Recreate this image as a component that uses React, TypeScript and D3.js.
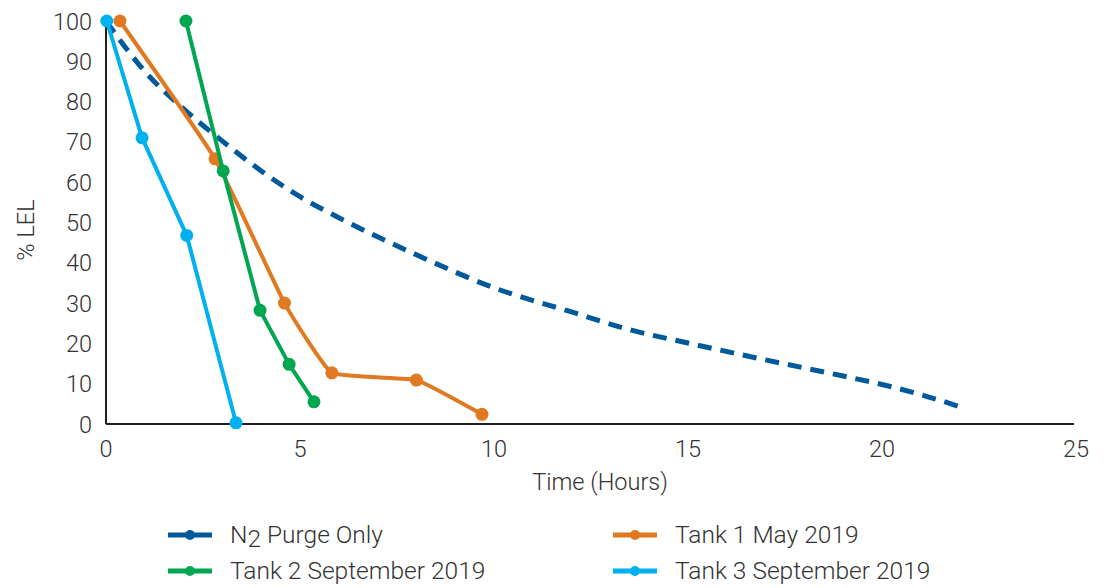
import React from "react";
import * as d3 from "d3";

type P = [number, number];

const xTicks = [0, 5, 10, 15, 20, 25];
const yTicks = [0, 10, 20, 30, 40, 50, 60, 70, 80, 90, 100];

const n2Purge: P[] = [
  [0, 100], [1, 87.5], [2, 78.2], [3, 70.2], [4, 62.8], [5, 56.4], [6, 51.2],
  [8, 42], [10, 33.8], [12, 27.8], [13.5, 23.4], [15, 20.1], [17, 15.9],
  [19, 11.9], [20, 9.8], [21, 7.3], [22, 4.3],
];
const tank1: P[] = [[0.36, 100], [2.81, 65.8], [4.6, 30], [5.82, 12.7], [8.0, 10.9], [9.69, 2.4]];
const tank2: P[] = [[2.06, 100], [3.02, 62.8], [3.97, 28.2], [4.72, 14.8], [5.36, 5.5]];
const tank3: P[] = [[0.02, 100], [0.93, 71], [2.08, 46.8], [3.35, 0.3]];

const COLORS = { n2: "#00599b", t1: "#e0791f", t2: "#00a650", t3: "#00b0ef" };

const FONT = "Roboto, 'Liberation Sans', Arial, sans-serif";
const TEXT = "#333333";

export default function App() {
  const W = 1109, H = 588;
  const x = d3.scaleLinear().domain([0, 25]).range([106, 1076]);
  const y = d3.scaleLinear().domain([0, 100]).range([424, 21]);

  const lin = d3.line<P>().x(d => x(d[0])).y(d => y(d[1]));
  const smooth = d3.line<P>().x(d => x(d[0])).y(d => y(d[1])).curve(d3.curveMonotoneX);
  const excel = d3.line<P>().x(d => x(d[0])).y(d => y(d[1])).curve(d3.curveCardinal.tension(0.65));

  const series = [
    { data: tank1, color: COLORS.t1, path: excel(tank1) },
    { data: tank2, color: COLORS.t2, path: lin(tank2) },
    { data: tank3, color: COLORS.t3, path: lin(tank3) },
  ];

  const legend = [
    { label: "N2", color: COLORS.n2, x: 168, y: 535, n2: true },
    { label: "Tank 1 May 2019", color: COLORS.t1, x: 613, y: 535 },
    { label: "Tank 2 September 2019", color: COLORS.t2, x: 168, y: 571 },
    { label: "Tank 3 September 2019", color: COLORS.t3, x: 613, y: 571 },
  ];

  return (
    <svg width={W} height={H} style={{ position: "absolute", left: 0, top: 0, background: "#fff" }} fontFamily={FONT} fontWeight={300}>
      {/* axes */}
      <line x1={x(0)} x2={x(0)} y1={y(100)} y2={y(0)} stroke="#231f20" strokeWidth={2} />
      <line x1={x(0)} x2={1074} y1={y(0)} y2={y(0)} stroke="#231f20" strokeWidth={2} />
      {yTicks.map(t => (
        <text key={"y" + t} x={92} y={y(t) + 8.5} textAnchor="end" fontSize={23.5} fill={TEXT}>{t}</text>
      ))}
      {xTicks.map(t => (
        <text key={"x" + t} x={x(t)} y={457} textAnchor="middle" fontSize={23.5} fill={TEXT}>{t}</text>
      ))}
      <text x={600} y={490} textAnchor="middle" fontSize={23.5} fill={TEXT}>Time (Hours)</text>
      <text transform="translate(34,230) rotate(-90)" textAnchor="middle" fontSize={23.5} fill={TEXT}>% LEL</text>

      {/* N2 dashed */}
      <path d={smooth(n2Purge) || ""} fill="none" stroke={COLORS.n2} strokeWidth={5} strokeDasharray="14 9" />

      {series.map((s, i) => (
        <g key={i}>
          <path d={s.path || ""} fill="none" stroke={s.color} strokeWidth={4} strokeLinejoin="round" />
          {s.data.map((d, j) => (
            <circle key={j} cx={x(d[0])} cy={y(d[1])} r={6.5} fill={s.color} />
          ))}
        </g>
      ))}

      {/* legend */}
      {legend.map((l, i) => (
        <g key={i}>
          <line x1={l.x} x2={l.x + 44} y1={l.y} y2={l.y} stroke={l.color} strokeWidth={5} />
          <circle cx={l.x + 22} cy={l.y} r={5} fill={l.color} />
          {l.n2 ? (
            <text x={l.x + 62} y={l.y + 8} fontSize={24.5} fill={TEXT}>
              N<tspan dy={4}>2</tspan><tspan dy={-4}> Purge Only</tspan>
            </text>
          ) : (
            <text x={l.x + 62} y={l.y + 8} fontSize={24.5} fill={TEXT}>{l.label}</text>
          )}
        </g>
      ))}
    </svg>
  );
}
